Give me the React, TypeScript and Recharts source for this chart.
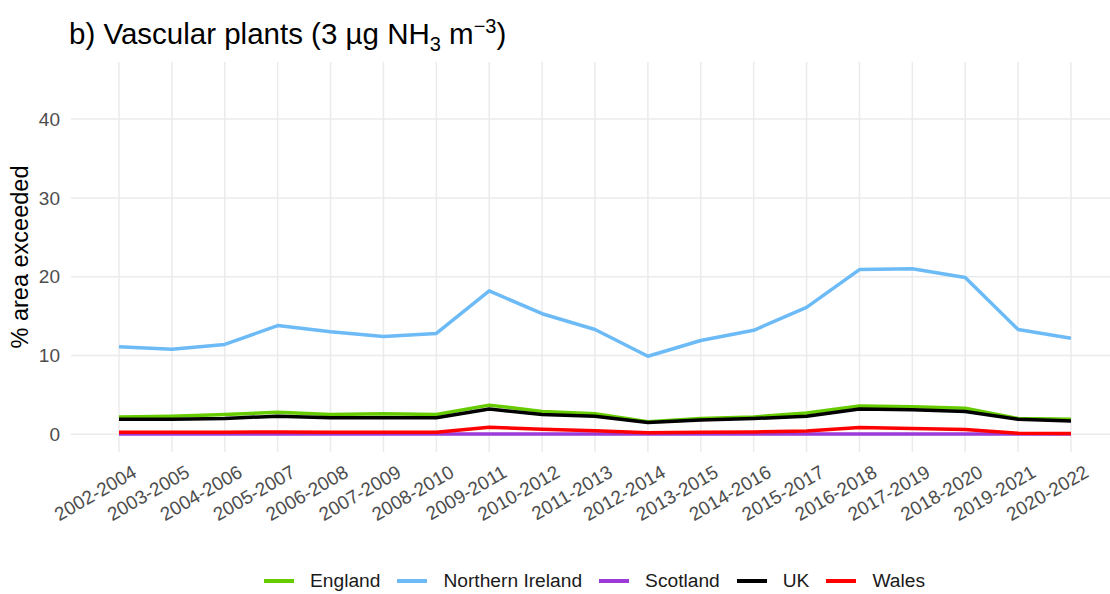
import { LineChart, Line, XAxis, YAxis, CartesianGrid, Label } from "recharts";

const periods = [
  "2002-2004", "2003-2005", "2004-2006", "2005-2007", "2006-2008", "2007-2009",
  "2008-2010", "2009-2011", "2010-2012", "2011-2013", "2012-2014", "2013-2015",
  "2014-2016", "2015-2017", "2016-2018", "2017-2019", "2018-2020", "2019-2021", "2020-2022",
];

const england = [2.2, 2.3, 2.5, 2.8, 2.5, 2.6, 2.5, 3.7, 2.9, 2.6, 1.6, 2.0, 2.2, 2.7, 3.6, 3.5, 3.3, 2.0, 1.9];
const northernIreland = [11.1, 10.8, 11.4, 13.8, 13.0, 12.4, 12.8, 18.2, 15.3, 13.3, 9.9, 11.9, 13.2, 16.1, 20.9, 21.0, 19.9, 13.3, 12.2];
const scotland = [0.02, 0.02, 0.02, 0.02, 0.02, 0.02, 0.02, 0.02, 0.02, 0.02, 0.02, 0.02, 0.02, 0.02, 0.02, 0.02, 0.02, 0.02, 0.02];
const uk = [1.9, 1.9, 2.0, 2.3, 2.1, 2.1, 2.1, 3.2, 2.5, 2.3, 1.5, 1.8, 2.0, 2.3, 3.2, 3.1, 2.9, 1.9, 1.7];
const wales = [0.25, 0.25, 0.25, 0.3, 0.25, 0.25, 0.25, 0.9, 0.65, 0.45, 0.2, 0.25, 0.3, 0.4, 0.85, 0.72, 0.6, 0.13, 0.1];

const yTicks = [0, 10, 20, 30, 40];

const series = [
  { key: "England", values: england, color: "#66cc00" },
  { key: "Northern Ireland", values: northernIreland, color: "#6cbbf7" },
  { key: "Scotland", values: scotland, color: "#9b3ad6" },
  { key: "UK", values: uk, color: "#000000" },
  { key: "Wales", values: wales, color: "#ff0000" },
];

const data = periods.map((p, i) => {
  const row: Record<string, string | number> = { period: p };
  series.forEach((s) => (row[s.key] = s.values[i]));
  return row;
});

const FONT = "'Liberation Sans', Arial, sans-serif";

function XTick(props: any) {
  const { x, y, payload } = props;
  return (
    <g transform={`translate(${x + 19},${y + 24})`}>
      <text textAnchor="end" transform="rotate(-30)" fontSize={19} fill="#4d4d4d" fontFamily={FONT}>
        {payload.value}
      </text>
    </g>
  );
}

export default function App() {
  return (
    <div style={{ position: "absolute", left: 0, top: 0, width: 1110, height: 594, background: "#fff", fontFamily: FONT }}>
      <div style={{ position: "absolute", left: 69, top: 12, fontSize: 29.5, lineHeight: "29px", color: "#000", whiteSpace: "nowrap" }}>
        b) Vascular plants (3 µg NH<sub style={{ fontSize: 20 }}>3</sub> m<sup style={{ fontSize: 20 }}>−3</sup>)
      </div>
      <LineChart width={1110} height={594} data={data} margin={{ top: 62, right: 0, bottom: 82, left: 0 }}>
        <CartesianGrid stroke="#ebebeb" strokeWidth={1.5} horizontalValues={yTicks} verticalValues={periods} />
        <XAxis
          dataKey="period"
          interval={0}
          padding={{ left: 48, right: 39 }}
          tickLine={false}
          axisLine={false}
          tickSize={0}
          tickMargin={0}
          height={60}
          tick={<XTick />}
        />
        <YAxis
          type="number"
          domain={[-2.25, 47.25]}
          ticks={yTicks}
          width={71}
          tickLine={false}
          axisLine={false}
          tickSize={0}
          tickMargin={11}
          tick={{ fontSize: 19, fill: "#4d4d4d", fontFamily: FONT }}
        >
          <Label
            content={() => (
              <text x={28} y={257} transform="rotate(-90 28 257)" textAnchor="middle" fontSize={23.5} fill="#000" fontFamily={FONT}>
                % area exceeded
              </text>
            )}
          />
        </YAxis>
        {series.map((s) => (
          <Line
            key={s.key}
            dataKey={s.key}
            stroke={s.color}
            strokeWidth={3.5}
            dot={false}
            activeDot={false}
            isAnimationActive={false}
            strokeLinejoin="round"
          />
        ))}
      </LineChart>
      <div style={{ position: "absolute", left: 264, top: 569, display: "flex", alignItems: "center", fontSize: 19.2, lineHeight: "24px", color: "#1a1a1a", whiteSpace: "nowrap" }}>
        {series.map((s) => (
          <div key={s.key} style={{ display: "flex", alignItems: "center", marginRight: 17 }}>
            <span style={{ display: "inline-block", width: 30, height: 4, background: s.color, marginRight: 16 }} />
            <span>{s.key}</span>
          </div>
        ))}
      </div>
    </div>
  );
}
